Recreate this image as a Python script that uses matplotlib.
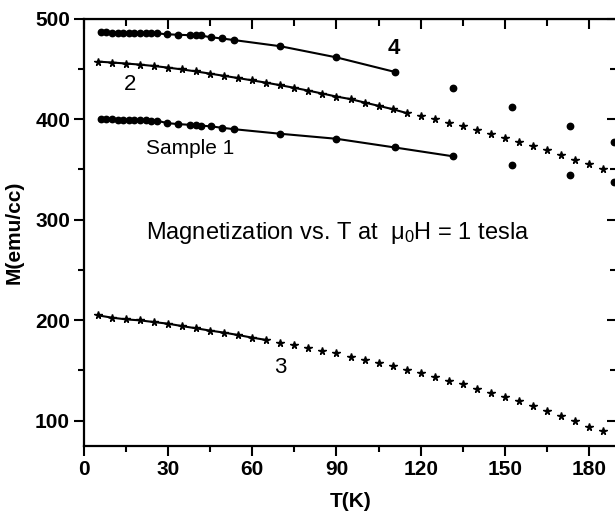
import matplotlib
matplotlib.use("Agg")
import matplotlib.pyplot as plt
import numpy as np
from matplotlib.ticker import MultipleLocator

plt.rcParams['font.family'] = ['Liberation Sans', 'DejaVu Sans']
plt.rcParams['mathtext.fontset'] = 'custom'
plt.rcParams['mathtext.rm'] = 'Liberation Sans'
plt.rcParams['mathtext.it'] = 'Liberation Sans'

# Temperatures for dot series (samples 1 and 4)
T_dots = [6, 8, 10, 12, 14, 16, 18, 20, 22, 24, 26, 29.7, 33.6, 37.8, 39.8, 41.6,
          45.3, 49.2, 53.3, 70, 90, 110.7]
M_s4 = [486.3, 486.2, 486.1, 486.0, 486.0, 485.9, 485.8, 485.7, 485.6, 485.5, 485.3,
        484.4, 483.9, 483.5, 483.3, 483.2, 481.4, 480.2, 478.7, 472.5, 461.4, 447.0]
M_s1 = [399.8, 399.7, 399.6, 399.5, 399.4, 399.3, 399.1, 399.0, 398.8, 398.6, 398.4,
        396.0, 395.0, 394.3, 393.8, 393.6, 392.7, 391.4, 390.0, 385.4, 380.4, 371.8]
T_s1_line_extra = [131.7]
M_s1_line_extra = [362.9]

T_s4_iso = [131.7, 152.5, 173.2, 188.8]
M_s4_iso = [430.8, 412.5, 393.3, 376.8]
T_s1_iso = [152.5, 173.2, 188.8]
M_s1_iso = [353.9, 344.0, 337.0]

# Star series (samples 2 and 3), every 5 K
T_stars = [5, 10, 15, 20, 25, 30, 35, 40, 45, 50, 55, 60, 65, 70, 75, 80, 85, 90, 95,
           100, 105, 110, 115, 120, 125, 130, 135, 140, 145, 150, 155, 160, 165, 170,
           175, 180, 185]
M_s2 = [457.2, 456.3, 455.3, 454.2, 452.8, 451.2, 449.4, 447.4, 445.2, 443.0, 440.8,
        438.5, 436.2, 433.7, 431.1, 428.3, 425.4, 422.4, 419.9, 416.5, 413.2, 409.9,
        406.0, 403.3, 400.0, 396.0, 392.7, 388.7, 384.7, 381.0, 376.8, 372.8, 368.8,
        364.2, 359.6, 354.9, 350.6]
M_s3 = [204.7, 202.4, 200.7, 199.7, 198.0, 196.4, 194.0, 191.8, 189.5, 187.5, 185.1,
        182.5, 180.2, 177.6, 174.9, 172.6, 169.2, 166.9, 163.6, 160.3, 157.0, 154.3,
        150.3, 147.0, 143.8, 139.4, 136.1, 131.9, 127.9, 123.9, 119.6, 114.6, 109.6,
        104.7, 99.7, 94.1, 89.2]
s2_line_end = 115
s3_line_end = 65

x_ticks = [0, 30, 60, 90, 120, 150, 180]
y_ticks = [100, 200, 300, 400, 500]

fig = plt.figure(figsize=(6.15, 5.14), dpi=100)
ax = fig.add_axes([84/615, (514-445.7)/514, 533/615, (445.7-18.6)/514])

lw = 1.5
dot_ms = 4.6
star_ms = 5.5
# sample 4
ax.plot(T_dots, M_s4, '-', color='black', lw=lw, marker='o', ms=dot_ms)
ax.plot(T_s4_iso, M_s4_iso, 'o', color='black', ms=dot_ms, ls='none')
# sample 1
ax.plot(T_dots + T_s1_line_extra, M_s1 + M_s1_line_extra, '-', color='black', lw=lw,
        marker='o', ms=dot_ms)
ax.plot(T_s1_iso, M_s1_iso, 'o', color='black', ms=dot_ms, ls='none')

T_stars = np.array(T_stars)
for M, end in ((np.array(M_s2), s2_line_end), (np.array(M_s3), s3_line_end)):
    m = T_stars <= end
    ax.plot(T_stars[m], M[m], '-', color='black', lw=lw, marker='*', ms=star_ms)
    ax.plot(T_stars[~m], M[~m], '*', color='black', ms=star_ms, ls='none')

ax.set_xlim(0, 190)
ax.set_ylim(75, 500)
ax.set_xticks(x_ticks)
ax.set_yticks(y_ticks)
ax.xaxis.set_minor_locator(MultipleLocator(15))
ax.yaxis.set_minor_locator(MultipleLocator(50))

for s in ax.spines.values():
    s.set_linewidth(1.6)
ax.tick_params(which='both', direction='out', top=False, right=False, width=1.5,
               labelsize=15, pad=3)
ax.tick_params(which='major', length=7)
ax.tick_params(which='minor', length=4)
for lab in ax.get_xticklabels() + ax.get_yticklabels():
    lab.set_fontweight('bold')

# mirrored inward ticks on top and right
axt = ax.secondary_xaxis('top')
axt.set_xticks(x_ticks)
axt.xaxis.set_minor_locator(MultipleLocator(15))
axt.tick_params(which='both', direction='in', width=1.5, labeltop=False)
axt.tick_params(which='major', length=7)
axt.tick_params(which='minor', length=5)
axr = ax.secondary_yaxis('right')
axr.set_yticks(y_ticks)
axr.yaxis.set_minor_locator(MultipleLocator(50))
axr.tick_params(which='both', direction='in', width=1.5, labelright=False)
axr.tick_params(which='major', length=7)
axr.tick_params(which='minor', length=5)

ax.set_xlabel('T(K)', fontsize=15, fontweight='bold', labelpad=10)
ax.set_ylabel('M(emu/cc)', fontsize=15, fontweight='bold', labelpad=8)

ax.text(90.6, 287, r'Magnetization vs. T at  $\mathregular{\mu_0}$H = 1 tesla',
        fontsize=17, ha='center', va='center')
ax.text(37.8, 371.2, 'Sample 1', fontsize=15, ha='center', va='center')
ax.text(16.4, 434.8, '2', fontsize=16, ha='center', va='center')
ax.text(69.9, 152.7, '3', fontsize=16, ha='center', va='center')
ax.text(110.3, 470.5, '4', fontsize=16, fontweight='bold', ha='center', va='center')

fig.savefig('out.png', dpi=100)
